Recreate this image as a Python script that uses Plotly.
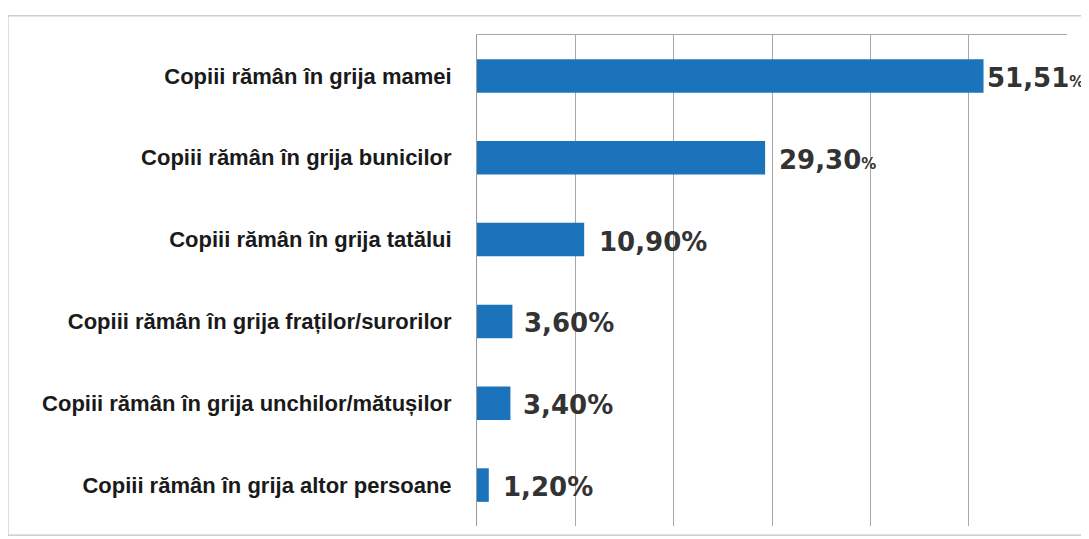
import plotly.graph_objects as go

categories = [
    "Copiii rămân în grija mamei",
    "Copiii rămân în grija bunicilor",
    "Copiii rămân în grija tatălui",
    "Copiii rămân în grija fraților/surorilor",
    "Copiii rămân în grija unchilor/mătușilor",
    "Copiii rămân în grija altor persoane",
]
values = [51.51, 29.30, 10.90, 3.60, 3.40, 1.20]
value_labels = [
    "51,51<span style='font-size:15px'>%</span>",
    "29,30<span style='font-size:15px'>%</span>",
    "10,90%",
    "3,60%",
    "3,40%",
    "1,20%",
]
x_ticks = [0, 10, 20, 30, 40, 50, 60]

label_shift = [1, 12, 13, 10, 11, 12]

fig = go.Figure()

fig.add_trace(go.Bar(
    y=categories, x=values, orientation='h',
    marker=dict(color='#1b74bb', line=dict(width=0)),
    width=0.41, hoverinfo='skip',
))

for cat, val, lab, sh in zip(categories, values, value_labels, label_shift):
    fig.add_annotation(
        x=val, y=cat, text=lab, showarrow=False,
        xanchor='left', yanchor='middle', xshift=sh, yshift=-2,
        font=dict(family='DejaVu Sans', size=26, color='#333333', weight='bold'),
    )

fig.update_layout(
    width=1081, height=531,
    paper_bgcolor='white', plot_bgcolor='white',
    margin=dict(l=469, r=22, t=27, b=13),
    showlegend=False,
    xaxis=dict(
        range=[0, 60], tickvals=x_ticks, showticklabels=False,
        showgrid=True, gridcolor='#a8a8a8', gridwidth=1,
        zeroline=False, side='top',
        showline=True, linecolor='#a8a8a8', linewidth=1,
    ),
    yaxis=dict(
        autorange='reversed', showgrid=False, zeroline=False,
        showline=True, linecolor='#9a9a9a', linewidth=1,
        ticks='', ticklabelstandoff=20,
        tickfont=dict(family='Liberation Sans', size=22, color='#1a1a1a', weight='bold'),
    ),
    shapes=[dict(
        type='rect', xref='paper', yref='paper',
        x0=-0.795, x1=1.05, y0=-0.0186, y1=1.039,
        line=dict(color='#b5b5b5', width=1), layer='below',
    )],
)

fig.write_html("out.html")
